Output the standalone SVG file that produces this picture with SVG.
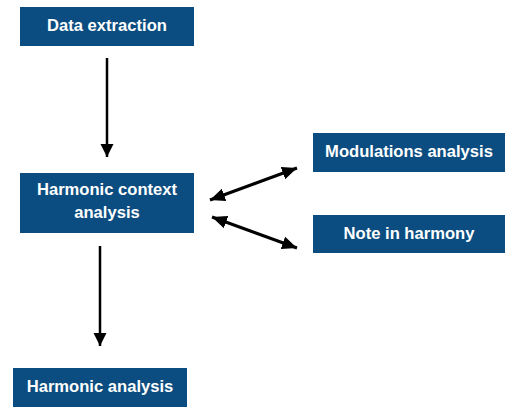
<svg xmlns="http://www.w3.org/2000/svg" width="505" height="408" viewBox="0 0 505 408">
<defs>
<style>
.box{fill:#0b4d80}
.lbl{fill:#ffffff;font-family:"Liberation Sans",Arial,Helvetica,sans-serif;font-weight:bold;font-size:16.6px;text-anchor:middle}
.conn{stroke:#000000;fill:none}
.v{stroke-width:2.5}
.d{stroke-width:3}
</style>
<marker id="ah" markerUnits="userSpaceOnUse" markerWidth="14" markerHeight="14" refX="13" refY="6.5" orient="auto-start-reverse" viewBox="0 0 14 13">
<path d="M0,0 L13,6.5 L0,13 z" fill="#000000"/>
</marker>
<marker id="ah2" markerUnits="userSpaceOnUse" markerWidth="16" markerHeight="14" refX="15" refY="6.5" orient="auto-start-reverse" viewBox="0 0 16 13">
<path d="M0,0 L15,6.5 L0,13 z" fill="#000000"/>
</marker>
</defs>
<g id="n-data-extraction">
<rect class="box" x="20" y="7" width="174" height="39"/>
<text class="lbl" x="107" y="31">Data extraction</text>
</g>
<g id="n-harmonic-context">
<rect class="box" x="20" y="173" width="174" height="60"/>
<text class="lbl" x="107" y="195">Harmonic context</text>
<text class="lbl" x="107" y="218">analysis</text>
</g>
<g id="n-harmonic-analysis">
<rect class="box" x="13" y="368" width="174" height="39"/>
<text class="lbl" x="100" y="392">Harmonic analysis</text>
</g>
<g id="n-modulations">
<rect class="box" x="313" y="133" width="192" height="39"/>
<text class="lbl" x="409" y="157">Modulations analysis</text>
</g>
<g id="n-note-in-harmony">
<rect class="box" x="313" y="215" width="192" height="38"/>
<text class="lbl" x="409" y="239">Note in harmony</text>
</g>
<g id="connectors">
<line class="conn v" x1="107" y1="58" x2="107" y2="157" marker-end="url(#ah)"/>
<line class="conn v" x1="100" y1="246" x2="100" y2="346" marker-end="url(#ah)"/>
<line class="conn d" x1="210" y1="200" x2="297" y2="168" marker-start="url(#ah2)" marker-end="url(#ah2)"/>
<line class="conn d" x1="212" y1="217" x2="297" y2="248" marker-start="url(#ah2)" marker-end="url(#ah2)"/>
</g>
</svg>
